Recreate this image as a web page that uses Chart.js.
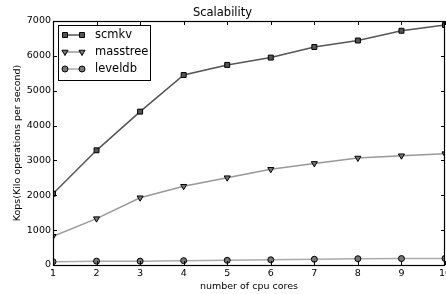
<!DOCTYPE html>
<html><head><meta charset="utf-8">
<script src="https://cdn.jsdelivr.net/npm/chart.js@4/dist/chart.umd.min.js"></script>
<style>html,body{margin:0;padding:0;background:#fff}#wrap{width:446px;height:294px}</style>
</head><body><div id="wrap"><canvas id="c" width="446" height="294"></canvas></div>
<script>
const cores = [1,2,3,4,5,6,7,8,9,10];
const scmkv = [2045,3290,4400,5450,5740,5950,6255,6440,6720,6885];
const masstree = [825,1330,1930,2260,2505,2745,2915,3070,3135,3195];
const leveldb = [95,110,110,125,135,150,165,180,185,190];
const yTicks = [0,1000,2000,3000,4000,5000,6000,7000];
const FONT = 'DejaVu Sans';

function pts(arr){ return cores.map((c,i)=>({x:c,y:arr[i]})); }

const series = [
  {label:'scmkv', data:scmkv, line:'#555555', fill:'#555555', style:'rect', rot:0, r:3.5},
  {label:'masstree', data:masstree, line:'#999999', fill:'#777777', style:'triangle', rot:180, r:3.5},
  {label:'leveldb', data:leveldb, line:'#aaaaaa', fill:'#777777', style:'circle', rot:0, r:3}
];

const frame = {
  id:'frame',
  afterDatasetsDraw(chart){
    const {ctx, chartArea:a, scales:{x,y}} = chart;
    ctx.save();
    ctx.strokeStyle='#000'; ctx.lineWidth=1;
    ctx.beginPath();
    cores.forEach(c=>{ const px=Math.round(x.getPixelForValue(c))+0.5;
      ctx.moveTo(px,a.bottom); ctx.lineTo(px,a.bottom-4);
      ctx.moveTo(px,a.top); ctx.lineTo(px,a.top+4); });
    yTicks.forEach(v=>{ const py=Math.round(y.getPixelForValue(v))+0.5;
      ctx.moveTo(a.left,py); ctx.lineTo(a.left+4,py);
      ctx.moveTo(a.right,py); ctx.lineTo(a.right-4,py); });
    ctx.stroke();
    ctx.lineWidth=1.2;
    ctx.strokeRect(Math.round(a.left)+0.5, Math.round(a.top)+0.5, Math.round(a.right-a.left)-1, Math.round(a.bottom-a.top));
    // legend
    const lx=58, ly=25, lw=92, lh=55;
    ctx.fillStyle='#fff'; ctx.fillRect(lx,ly,lw,lh);
    ctx.lineWidth=1; ctx.strokeStyle='#000';
    ctx.strokeRect(lx+0.5,ly+0.5,lw,lh);
    series.forEach((s,i)=>{
      const yy = 35 + i*17;
      ctx.strokeStyle=s.line; ctx.lineWidth=1.5;
      ctx.beginPath(); ctx.moveTo(65,yy); ctx.lineTo(82,yy); ctx.stroke();
      ctx.fillStyle=s.fill; ctx.strokeStyle='#000'; ctx.lineWidth=1;
      [65,82].forEach(px=>Chart.helpers.drawPoint(ctx,{pointStyle:s.style,radius:s.r,rotation:s.rot,borderWidth:1},px,yy));
      ctx.fillStyle='#000'; ctx.font='11.5px "'+FONT+'"';
      ctx.textBaseline='middle'; ctx.textAlign='left';
      ctx.fillText(s.label, 95, yy);
    });
    ctx.restore();
  }
};

new Chart(document.getElementById('c'), {
  type:'line',
  data:{datasets: series.map(s=>({
    label:s.label, data:pts(s.data), borderColor:s.line, borderWidth:1.5,
    backgroundColor:s.fill, pointBackgroundColor:s.fill, pointBorderColor:'#000',
    pointBorderWidth:1, pointStyle:s.style, pointRotation:s.rot, pointRadius:s.r,
    tension:0, clip:0, fill:false
  }))},
  options:{
    responsive:false, animation:false, devicePixelRatio:1,
    layout:{padding:{top:0,right:1,left:0,bottom:0}, autoPadding:false},
    plugins:{
      legend:{display:false}, tooltip:{enabled:false},
      title:{display:true, text:'Scalability', color:'#000',
        font:{family:FONT,size:11.5,weight:'normal'}, padding:{top:6,bottom:1.2}}
    },
    scales:{
      x:{type:'linear', min:1, max:10,
        grid:{display:false, drawTicks:false}, border:{display:false},
        ticks:{stepSize:1, color:'#000', padding:3, font:{family:FONT,size:9.5}, maxRotation:0, autoSkip:false},
        title:{display:true, text:'number of cpu cores', color:'#000', font:{family:FONT,size:9.5}, padding:{top:0,bottom:2}},
        afterFit(s){ s.height=29; s.paddingLeft=0; s.paddingRight=0; }
      },
      y:{type:'linear', min:0, max:7000,
        grid:{display:false, drawTicks:false}, border:{display:false},
        ticks:{stepSize:1000, color:'#000', padding:2, font:{family:FONT,size:9.5}, callback:v=>String(v)},
        title:{display:true, text:'Kops(Kilo operations per second)', color:'#000', font:{family:FONT,size:9.5}, padding:{top:12,bottom:0}},
        afterFit(s){ s.width=53; s.paddingTop=0; s.paddingBottom=0; }
      }
    }
  },
  plugins:[frame]
});
</script></body></html>
